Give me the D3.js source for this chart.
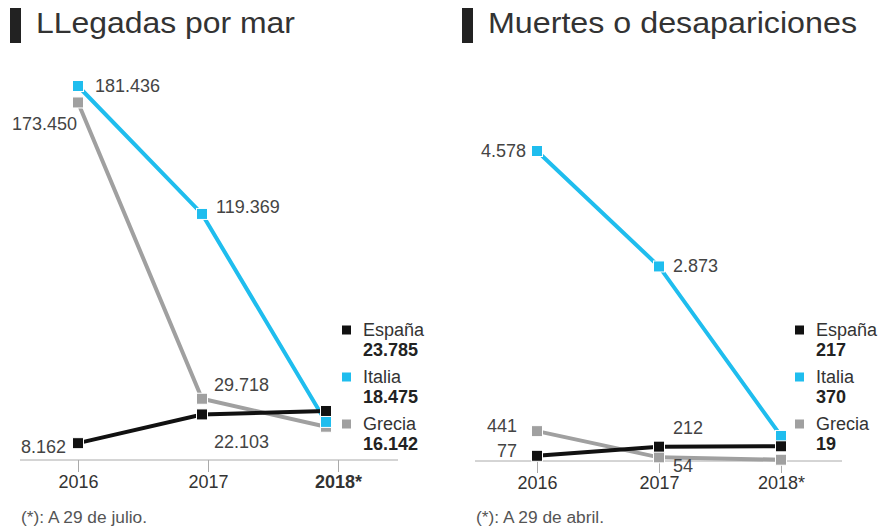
<!DOCTYPE html>
<html><head><meta charset="utf-8">
<script src="https://cdn.jsdelivr.net/npm/d3@7"></script>
<style>
body{margin:0;background:#fff;}
svg{display:block;font-family:"Liberation Sans",Arial,sans-serif;}
</style></head>
<body><svg id="c" width="881" height="529"></svg>
<script>
const years = ["2016", "2017", "2018*"];
const countries = ["España", "Italia", "Grecia"];
const colors = ["#111111", "#1fbdee", "#a0a0a0"];
const llegadasEspana = [8162, 22103, 23785];
const llegadasItalia = [181436, 119369, 18475];
const llegadasGrecia = [173450, 29718, 16142];
const muertesEspana = [77, 212, 217];
const muertesItalia = [4578, 2873, 370];
const muertesGrecia = [441, 54, 19];
const titles = ["LLegadas por mar", "Muertes o desapariciones"];
const notes = ["(*): A 29 de julio.", "(*): A 29 de abril."];

const fmt = v => d3.format(",")(v).replace(/,/g, ".");
const svg = d3.select("#c");

const panels = [
  {title: titles[0], titleW: 259, note: notes[0], noteW: 126, series: [llegadasEspana, llegadasItalia, llegadasGrecia],
   ox: 0, axisX: [20, 398], ptRange: [78, 326], tickRange: [78, 338], yRange: [460, 86], yMax: 181436,
   boldLast: true, legendX: 342,
   labels: [ // [series, index, dx, dy, anchor]
     [1, 0, 17, 0, "start"], [2, 0, -1, 21, "end"], [1, 1, 14, -7, "start"],
     [2, 1, 12, -14, "start"], [0, 1, 12, 27, "start"], [0, 0, -12, 4, "end"]]},
  {title: titles[1], titleW: 369, note: notes[1], noteW: 128, series: [muertesEspana, muertesItalia, muertesGrecia],
   ox: 452, axisX: [475, 842], ptRange: [537, 781], tickRange: [537, 781], yRange: [461, 151], yMax: 4578,
   boldLast: false, legendX: 795,
   labels: [
     [1, 0, -11, 0, "end"], [1, 1, 14, -1, "start"], [2, 0, -20, -5, "end"],
     [0, 0, -20, -5, "end"], [0, 1, 14, -19, "start"], [2, 1, 14, 8, "start"]]}
];

panels.forEach(p => {
  const g = svg.append("g");
  // title
  g.append("rect").attr("x", p.ox + 10).attr("y", 8).attr("width", 11).attr("height", 35).attr("fill", "#222");
  g.append("text").attr("x", p.ox + 36).attr("y", 33).attr("font-size", 29).attr("fill", "#333")
    .attr("textLength", p.titleW).attr("lengthAdjust", "spacingAndGlyphs").text(p.title);

  const xp = d3.scalePoint().domain(years).range(p.ptRange);
  const xt = d3.scalePoint().domain(years).range(p.tickRange);
  const y = d3.scaleLinear().domain([0, p.yMax]).range(p.yRange);

  // axis
  const ax = g.append("g").attr("transform", `translate(0,${p.yRange[0]})`)
    .call(d3.axisBottom(xt).tickSize(12).tickPadding(3).tickSizeOuter(0));
  ax.select(".domain").remove();
  ax.selectAll(".tick line").attr("stroke", "#aaa");
  ax.selectAll(".tick text").attr("font-size", 18).attr("fill", "#333")
    .attr("font-family", "Liberation Sans, Arial, sans-serif")
    .attr("font-weight", (d, i) => (p.boldLast && i === 2) ? "bold" : "normal");
  g.append("line").attr("x1", p.axisX[0]).attr("x2", p.axisX[1])
    .attr("y1", p.yRange[0]).attr("y2", p.yRange[0]).attr("stroke", "#aaa");

  // lines (draw order: Grecia, Italia, España)
  const line = d3.line().x((d, i) => xp(years[i])).y(d => y(d));
  [2, 1, 0].forEach(si => {
    g.append("path").datum(p.series[si]).attr("d", line).attr("fill", "none")
      .attr("stroke", colors[si]).attr("stroke-width", 4);
  });
  [2, 1, 0].forEach(si => {
    g.selectAll(null).data(p.series[si]).enter().append("rect")
      .attr("x", (d, i) => xp(years[i]) - 5.5).attr("y", d => y(d) - 5.5)
      .attr("width", 11).attr("height", 11).attr("fill", colors[si])
      .attr("stroke", "#fff").attr("stroke-width", 1);
  });

  // point labels
  p.labels.forEach(([si, i, dx, dy, anchor]) => {
    g.append("text").attr("x", xp(years[i]) + dx).attr("y", y(p.series[si][i]) + dy)
      .attr("dy", "0.35em").attr("text-anchor", anchor).attr("font-size", 18).attr("fill", "#444")
      .text(fmt(p.series[si][i]));
  });

  // legend
  countries.forEach((c, k) => {
    const cy = 330 + k * 47;
    g.append("rect").attr("x", p.legendX).attr("y", cy - 4.5).attr("width", 9).attr("height", 9).attr("fill", colors[k]);
    g.append("text").attr("x", p.legendX + 21).attr("y", cy).attr("dy", "0.35em")
      .attr("font-size", 18).attr("fill", "#333").text(c);
    g.append("text").attr("x", p.legendX + 21).attr("y", cy + 20).attr("dy", "0.35em")
      .attr("font-size", 18).attr("font-weight", "bold").attr("fill", "#222").text(fmt(p.series[k][2]));
  });

  // footnote
  g.append("text").attr("x", p.axisX[0] + 1).attr("y", 517).attr("dy", "0.35em")
    .attr("font-size", 16).attr("fill", "#555")
    .attr("textLength", p.noteW).attr("lengthAdjust", "spacingAndGlyphs").text(p.note);
});
</script></body></html>
